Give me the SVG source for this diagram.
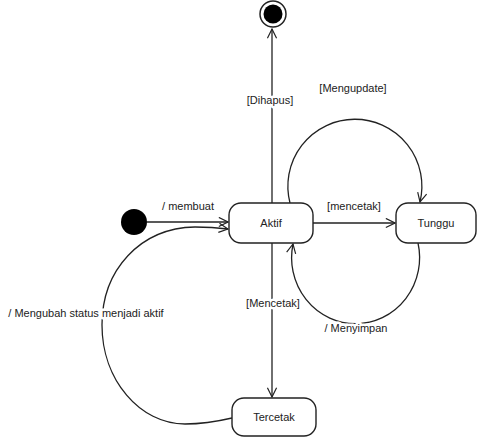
<svg xmlns="http://www.w3.org/2000/svg" width="480" height="438" viewBox="0 0 480 438">
<defs>
<marker id="arr" viewBox="0 0 12 12" refX="11" refY="6" markerWidth="11" markerHeight="11" markerUnits="userSpaceOnUse" orient="auto">
<path d="M1,1 L11,6 L1,11" fill="none" stroke="#222" stroke-width="1.3"/>
</marker>
<style>
.ln{fill:none;stroke:#222;stroke-width:1.3}
.box{fill:#fff;stroke:#222;stroke-width:1.4}
.t{font-family:"Liberation Sans",Arial,sans-serif;font-size:11px;fill:#222;text-anchor:middle}
.h{stroke:#fff;stroke-width:5;paint-order:stroke;stroke-linejoin:round}
</style>
</defs>
<rect width="480" height="438" fill="#fff"/>
<g id="connectors">
<path class="ln" d="M272 203 L272 29" marker-end="url(#arr)"/>
<path class="ln" d="M147 222 L228 222" marker-end="url(#arr)"/>
<path class="ln" d="M313 223 L395 223" marker-end="url(#arr)"/>
<path class="ln" d="M272 243 L272 397" marker-end="url(#arr)"/>
<path class="ln" d="M290 203 A67 67 0 1 1 420 202" marker-end="url(#arr)"/>
<path class="ln" d="M418 243 A64 66 0 1 1 293 244" marker-end="url(#arr)"/>
<path class="ln" d="M232 418 C215 422,200 424,185 424 C140 424,102 380,102 325 C102 270,140 228,195 227 C210 227,220 228,228 229" marker-end="url(#arr)"/>
<text class="t h" x="270" y="104">[Dihapus]</text>
<text class="t" x="353" y="92">[Mengupdate]</text>
<text class="t" x="188" y="210">/ membuat</text>
<text class="t" x="354" y="210">[mencetak]</text>
<text class="t h" x="273" y="307">[Mencetak]</text>
<text class="t h" x="356" y="332">/ Menyimpan</text>
<text class="t h" x="86" y="317">/ Mengubah status menjadi aktif</text>
</g>
<g id="final">
<circle cx="273" cy="14" r="13" fill="#fff" stroke="#222" stroke-width="1.5"/>
<circle cx="273" cy="14" r="9.5" fill="#000"/>
</g>
<g id="initial">
<circle cx="134" cy="222" r="13" fill="#000"/>
</g>
<g id="aktif">
<rect class="box" x="229" y="203" width="84" height="40" rx="12"/>
<text class="t" x="271" y="227">Aktif</text>
</g>
<g id="tunggu">
<rect class="box" x="396" y="203" width="80" height="40" rx="12"/>
<text class="t" x="436" y="227">Tunggu</text>
</g>
<g id="tercetak">
<rect class="box" x="232" y="398" width="84" height="38" rx="12"/>
<text class="t" x="274" y="421">Tercetak</text>
</g>
</svg>
